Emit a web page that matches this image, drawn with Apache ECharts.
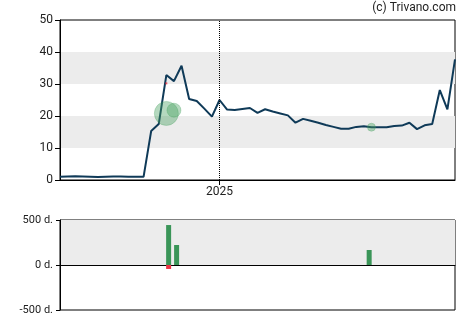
<!DOCTYPE html>
<html><head><meta charset="utf-8">
<script src="https://cdn.jsdelivr.net/npm/echarts@6/dist/echarts.min.js"></script>
<style>html,body{margin:0;padding:0;background:#fff}#c{width:470px;height:325px}</style>
</head><body><div id="c"></div>
<script>
// weekly closing prices (index 0 = early Aug 2024, 21 = start of 2025)
const prices = [1.0,1.1,1.2,1.1,1.0,0.9,1.0,1.1,1.1,1.0,1.0,1.0,
  15.3,17.5,32.8,30.9,35.7,25.3,24.7,22.3,19.8,25.0,22.0,21.9,22.2,22.5,21.0,22.1,21.4,20.8,20.2,
  17.9,19.1,18.5,17.9,17.2,16.6,16.0,16.0,16.6,16.8,16.5,16.5,16.5,16.9,17.0,17.9,15.9,17.1,17.5,28.1,22.1,37.7];
const yearTickWeek = [21];
const yearTickLabel = ['2025'];
// insider trade bubbles
const bubbleWeek = [14, 15, 41];
const bubblePrice = [20.8, 21.8, 16.5];
const bubbleVolume = [5.76, 1.96, 0.64];
// sell marker
const sellWeek = [14];
const sellPrice = [30.2];
// bottom panel: days
const buyWeek = [14.3, 15.35, 40.7];
const buyDays = [444, 222, 167];
const sellDaysWeek = [14.3];
const sellDays = [-44];

const chart = echarts.init(document.getElementById('c'));
const font = 'Roboto, Arial, sans-serif';
const txt = '#222';
chart.setOption({
  animation:false,
  textStyle:{fontFamily:font},
  graphic:[{type:'text',right:14,top:2,style:{text:'(c) Trivano.com',fontFamily:font,fontSize:12,fill:txt}}],
  grid:[
    {left:60,top:20,width:395,height:160,show:true,borderColor:'#000',borderWidth:1,backgroundColor:'transparent'},
    {left:60,top:220,width:395,height:90,show:true,borderColor:'#000',borderWidth:1,backgroundColor:'transparent'}
  ],
  xAxis:[
    {type:'value',gridIndex:0,min:0,max:52,
      axisLine:{show:true,onZero:false,lineStyle:{color:'#000'}},
      axisTick:{show:true,customValues:yearTickWeek,length:5,lineStyle:{color:'#000'}},
      axisLabel:{show:true,customValues:yearTickWeek,formatter:v=>{const k=yearTickWeek.indexOf(v);return k>=0?yearTickLabel[k]:'';},color:txt,fontSize:12,margin:6},
      splitLine:{show:false}},
    {type:'value',gridIndex:1,min:0,max:52,
      axisLine:{show:true,onZero:true,lineStyle:{color:'#000'}},
      axisTick:{show:false},axisLabel:{show:false},splitLine:{show:false}}
  ],
  yAxis:[
    {type:'value',gridIndex:0,min:0,max:50,interval:10,
      axisLine:{show:true,lineStyle:{color:'#000'}},
      axisTick:{show:true,length:5,lineStyle:{color:'#000'}},
      axisLabel:{color:txt,fontSize:12,margin:7},
      splitLine:{show:false},
      splitArea:{show:true,areaStyle:{color:['rgba(0,0,0,0)','#ececec']}}},
    {type:'value',gridIndex:1,min:-500,max:500,interval:500,
      axisLine:{show:true,lineStyle:{color:'#000'}},
      axisTick:{show:true,length:4,lineStyle:{color:'#000'}},
      axisLabel:{color:txt,fontSize:11,margin:7,formatter:v=>v+' d.'},
      splitLine:{show:false},
      splitArea:{show:true,areaStyle:{color:['rgba(0,0,0,0)','#ececec']}}}
  ],
  series:[
    {type:'line',xAxisIndex:0,yAxisIndex:0,data:prices.map((v,i)=>[i,v]),
      symbol:'none',lineStyle:{color:'#0f3a58',width:2},z:3,
      markLine:{silent:true,symbol:'none',label:{show:false},
        lineStyle:{type:'dotted',color:'#000',width:1},
        data:yearTickWeek.map(w=>({xAxis:w}))}},
    {type:'scatter',xAxisIndex:0,yAxisIndex:0,
      data:bubbleWeek.map((w,i)=>[w,bubblePrice[i],bubbleVolume[i]]),
      symbolSize:d=>10*Math.sqrt(d[2]),
      itemStyle:{color:'rgba(70,160,95,0.5)',borderColor:'rgba(70,160,95,0.35)',borderWidth:1},z:4},
    {type:'scatter',xAxisIndex:0,yAxisIndex:0,
      data:sellWeek.map((w,i)=>[w,sellPrice[i]]),symbol:'rect',symbolSize:2,
      itemStyle:{color:'#e8303f'},z:5},
    {type:'bar',xAxisIndex:1,yAxisIndex:1,stack:'d',barWidth:5,
      data:buyWeek.map((w,i)=>[w,buyDays[i]]),itemStyle:{color:'#3a9558'}},
    {type:'bar',xAxisIndex:1,yAxisIndex:1,stack:'d2',barWidth:5,barGap:'-100%',
      data:sellDaysWeek.map((w,i)=>[w,sellDays[i]]),itemStyle:{color:'#ee3344'}}
  ]
});
</script></body></html>
